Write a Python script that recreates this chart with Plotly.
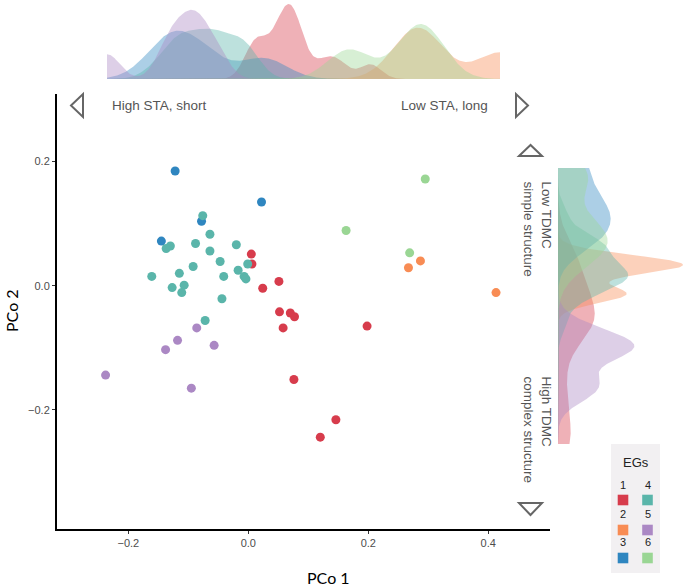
import numpy as np
import plotly.graph_objects as go

# ---------------- data ----------------
groups = ["1", "2", "3", "4", "5", "6"]
colors = ["#d73c4c", "#f88c54", "#2f86c0", "#5ab5aa", "#ab88c4", "#9ad694"]

eg1_x = [0.005, 0.006, 0.051, 0.024, 0.052, 0.070, 0.077, 0.058, 0.198, 0.076, 0.146, 0.120]
eg1_y = [0.051, 0.035, 0.007, -0.004, -0.042, -0.044, -0.050, -0.068, -0.065, -0.151, -0.216, -0.244]
eg2_x = [0.287, 0.267, 0.413]
eg2_y = [0.040, 0.029, -0.011]
eg3_x = [-0.122, 0.022, -0.078, -0.145]
eg3_y = [0.185, 0.135, 0.104, 0.072]
eg4_x = [-0.076, -0.064, -0.130, -0.137, -0.088, -0.064, -0.020, -0.047, -0.001, -0.092, -0.017,
         -0.161, -0.115, -0.041, -0.007, -0.004, -0.107, -0.127, -0.111, -0.044, -0.072]
eg4_y = [0.113, 0.083, 0.064, 0.060, 0.068, 0.056, 0.066, 0.039, 0.035, 0.031, 0.025,
         0.015, 0.020, 0.015, 0.015, 0.011, 0.001, -0.003, -0.011, -0.021, -0.056]
eg5_x = [-0.086, -0.118, -0.138, -0.057, -0.238, -0.095]
eg5_y = [-0.068, -0.088, -0.103, -0.096, -0.144, -0.165]
eg6_x = [0.295, 0.163, 0.269]
eg6_y = [0.172, 0.089, 0.053]

xs = [eg1_x, eg2_x, eg3_x, eg4_x, eg5_x, eg6_x]
ys = [eg1_y, eg2_y, eg3_y, eg4_y, eg5_y, eg6_y]

x_ticks = [-0.2, 0.0, 0.2, 0.4]
y_ticks = [-0.2, 0.0, 0.2]

W, H = 685, 588
def px(x): return x / W
def py(y): return 1 - y / H

def rgba(hexc, a):
    h = hexc.lstrip("#")
    r, g, b = int(h[0:2], 16), int(h[2:4], 16), int(h[4:6], 16)
    return f"rgba({r},{g},{b},{a})"

def kde(vals, grid):
    v = np.asarray(vals, dtype=float)
    n = len(v)
    sd = v.std(ddof=1)
    q75, q25 = np.percentile(v, [75, 25])
    iqr = q75 - q25
    lo = min(sd, iqr / 1.34) if iqr > 0 else sd
    bw = 0.9 * lo * n ** -0.2
    z = (grid[:, None] - v[None, :]) / bw
    return np.exp(-0.5 * z ** 2).sum(1) / (n * bw * np.sqrt(2 * np.pi))

def fmt(v):
    s = f"{v:.1f}"
    return s.replace("-", "\u2212")

all_x = np.concatenate([np.array(a) for a in xs])
all_y = np.concatenate([np.array(a) for a in ys])
gx = np.linspace(all_x.min(), all_x.max(), 512)
gy = np.linspace(all_y.min(), all_y.max(), 512)

fig = go.Figure()

# top marginal densities
top_max = 0
for g, c, xv in zip(groups, colors, xs):
    d = kde(xv, gx)
    top_max = max(top_max, d.max())
    fig.add_trace(go.Scatter(x=gx, y=d, mode="lines", fill="tozeroy", line=dict(width=0, color=c),
                             fillcolor=rgba(c, 0.4), xaxis="x2", yaxis="y2", showlegend=False,
                             hoverinfo="skip"))
# right marginal densities
right_max = 0
for g, c, yv in zip(groups, colors, ys):
    d = kde(yv, gy)
    right_max = max(right_max, d.max())
    fig.add_trace(go.Scatter(x=d, y=gy, mode="lines", fill="tozerox", line=dict(width=0, color=c),
                             fillcolor=rgba(c, 0.4), xaxis="x3", yaxis="y3", showlegend=False,
                             hoverinfo="skip"))

# scatter
for g, c, xv, yv in zip(groups, colors, xs, ys):
    fig.add_trace(go.Scatter(x=xv, y=yv, mode="markers", name=g,
                             marker=dict(color=c, size=9, line=dict(width=0)),
                             showlegend=False))

tickfont = dict(family="Liberation Sans, Arial", size=11, color="#4d4d4d")
fig.update_layout(
    width=W, height=H, margin=dict(l=0, r=0, t=0, b=0),
    paper_bgcolor="white", plot_bgcolor="rgba(0,0,0,0)",
    xaxis=dict(domain=[px(57), px(550)], range=[-0.319, 0.503], tickvals=x_ticks,
               ticktext=[fmt(v) for v in x_ticks], showgrid=False, zeroline=False,
               showline=True, linecolor="black", linewidth=2, ticks="outside", ticklen=3,
               tickcolor="#333", tickfont=tickfont, anchor="y"),
    yaxis=dict(domain=[py(529), py(94)], range=[-0.392, 0.309], tickvals=y_ticks,
               ticktext=[fmt(v) for v in y_ticks],
               showgrid=False, zeroline=False, showline=True, linecolor="black", linewidth=2,
               ticks="outside", ticklen=3, tickcolor="#333", tickfont=tickfont, anchor="x"),
    xaxis2=dict(domain=[px(107), px(500)], range=[all_x.min(), all_x.max()], visible=False,
                anchor="y2"),
    yaxis2=dict(domain=[py(79), 1.0], range=[0, top_max * 79 / 75], visible=False, anchor="x2"),
    xaxis3=dict(domain=[px(558), 1.0], range=[0, right_max * 127 / 125], visible=False,
                anchor="y3"),
    yaxis3=dict(domain=[py(444), py(168)], range=[all_y.min(), all_y.max()], visible=False,
                anchor="x3"),
)

annots = []
labfont = dict(family="Liberation Sans, Arial", size=13.5, color="#555555")
annots.append(dict(text="High STA, short", x=px(110), y=py(105), xref="paper", yref="paper",
                   xanchor="left", yanchor="middle", showarrow=False, font=labfont))
annots.append(dict(text="Low STA, long", x=px(490), y=py(105), xref="paper", yref="paper",
                   xanchor="right", yanchor="middle", showarrow=False, font=labfont))
annots.append(dict(text="Low TDMC<br>simple structure", x=px(537), y=py(179), xref="paper",
                   yref="paper", xanchor="center", yanchor="top", textangle=90, align="left",
                   showarrow=False, font=labfont))
annots.append(dict(text="High TDMC<br>complex structure", x=px(537), y=py(374), xref="paper",
                   yref="paper", xanchor="center", yanchor="top", textangle=90, align="left",
                   showarrow=False, font=labfont))
titlefont = dict(family="Lato, Open Sans", size=16, color="black")
annots.append(dict(text="PCo 1", x=px(328), y=py(577), xref="paper", yref="paper",
                   xanchor="center", yanchor="middle", showarrow=False, font=titlefont))
annots.append(dict(text="PCo 2", x=px(11), y=py(311), xref="paper", yref="paper",
                   xanchor="center", yanchor="middle", showarrow=False, font=titlefont,
                   textangle=-90))

shapes = []
tri = dict(type="path", xref="paper", yref="paper", line=dict(color="#666666", width=2),
           fillcolor="rgba(0,0,0,0)")
def path(pts):
    return "M " + " L ".join(f"{px(a):.5f},{py(b):.5f}" for a, b in pts) + " Z"
shapes.append({**tri, "path": path([(71, 105.5), (83, 94), (83, 117)])})
shapes.append({**tri, "path": path([(528, 105.5), (516, 94), (516, 117)])})
shapes.append({**tri, "path": path([(530.5, 145), (519, 156), (542, 156)])})
shapes.append({**tri, "path": path([(530.5, 515), (519, 503), (542, 503)])})

# legend box
shapes.append(dict(type="rect", xref="paper", yref="paper", x0=px(611), x1=px(660),
                   y0=py(573), y1=py(444), fillcolor="#f2f0f2", line=dict(width=0), layer="below"))
annots.append(dict(text="EGs", x=px(636), y=py(462), xref="paper", yref="paper",
                   xanchor="center", yanchor="middle", showarrow=False,
                   font=dict(family="Liberation Sans, Arial", size=13, color="#222")))
col_x = [623, 647.5]
row_lab = [485, 514, 542]
row_sq = [500, 530, 558]
for i, (g, c) in enumerate(zip(groups, colors)):
    col, row = i // 3, i % 3
    cx = col_x[col]
    annots.append(dict(text=g, x=px(cx), y=py(row_lab[row]), xref="paper", yref="paper",
                       xanchor="center", yanchor="middle", showarrow=False,
                       font=dict(family="Liberation Sans, Arial", size=11, color="#222")))
    shapes.append(dict(type="rect", xref="paper", yref="paper", x0=px(cx - 5.3), x1=px(cx + 5.3),
                       y0=py(row_sq[row] + 5.3), y1=py(row_sq[row] - 5.3), fillcolor=c,
                       line=dict(width=0)))

fig.update_layout(annotations=annots, shapes=shapes)
fig.write_html("out.html", post_script="document.body.style.margin='0';",
               config={"displayModeBar": False})
